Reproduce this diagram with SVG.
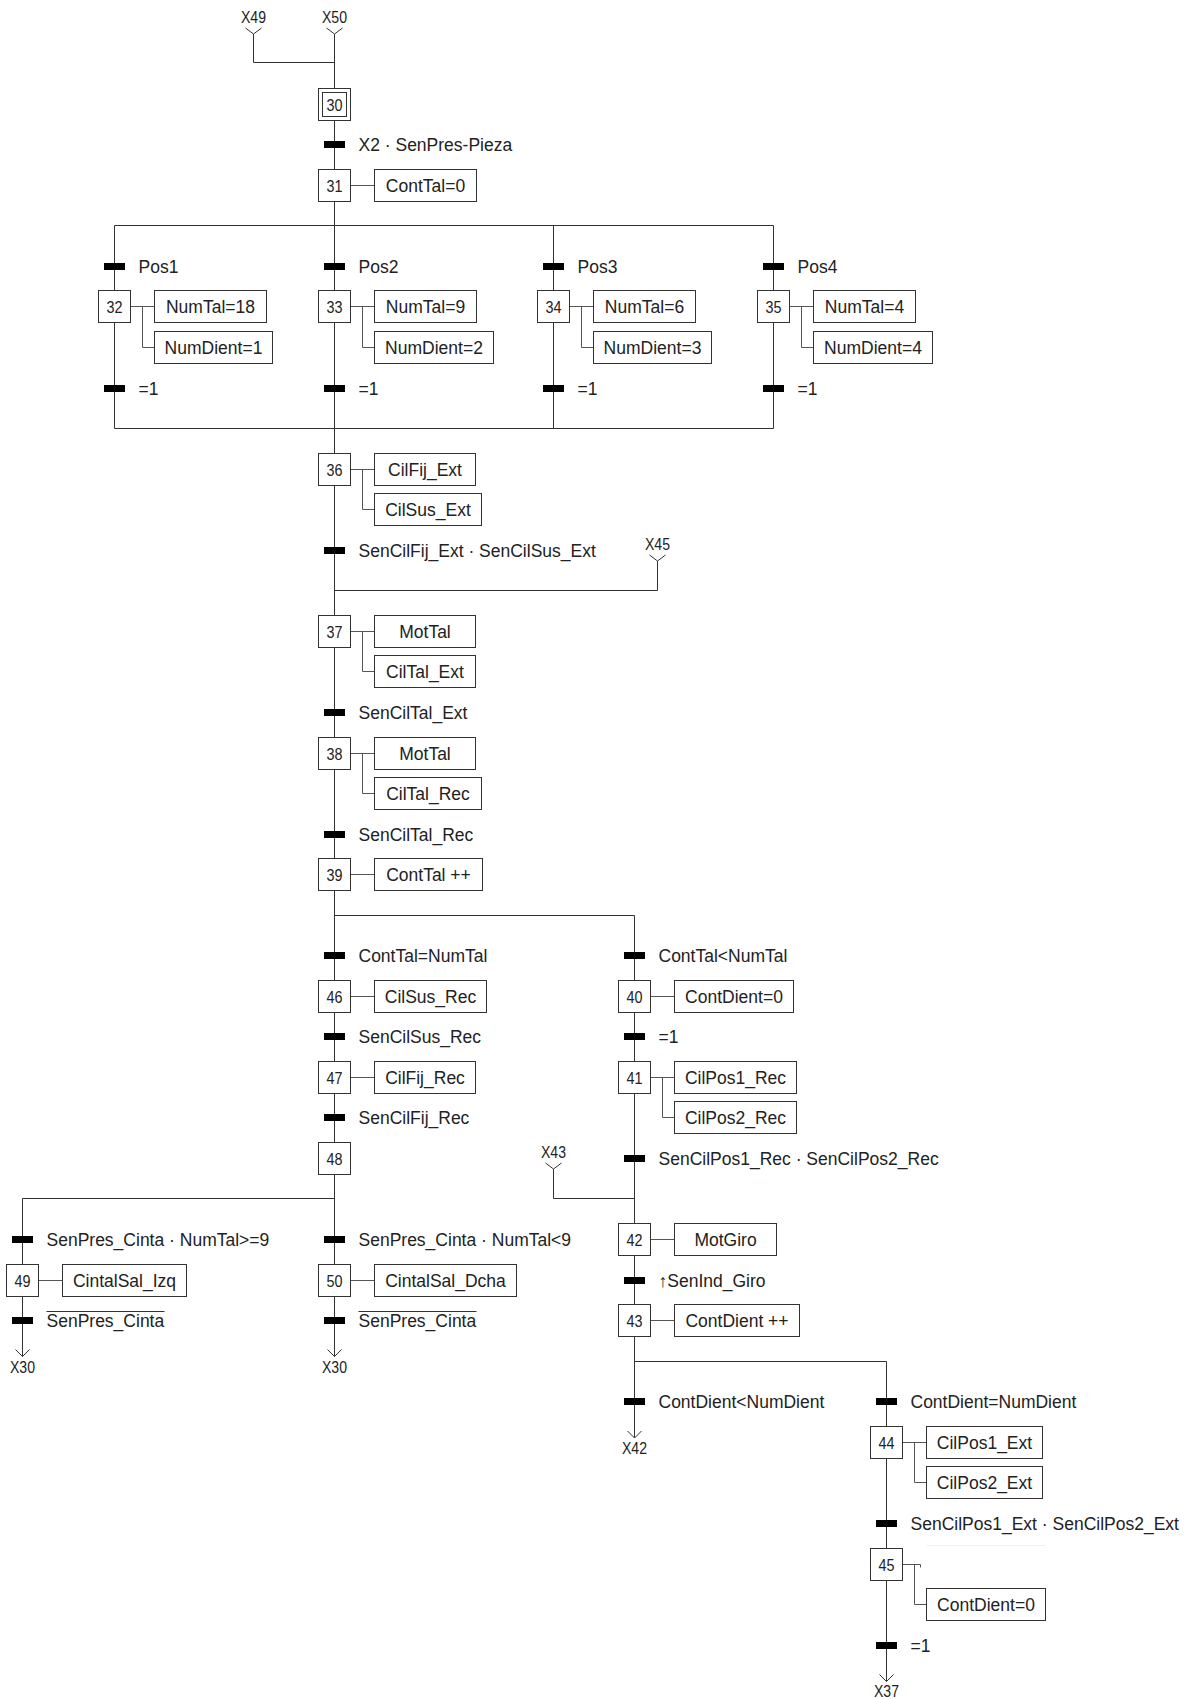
<svg xmlns="http://www.w3.org/2000/svg" width="1192" height="1699" viewBox="0 0 1192 1699">
<style>
  text { font-family: "Liberation Sans", Arial, sans-serif; fill: #222; }
  .lbl { font-size: 17.5px; }
  .act { font-size: 17.5px; text-anchor: middle; }
  .num { font-size: 17px; text-anchor: middle; }
  .ref { font-size: 16px; text-anchor: middle; }
  .flow { fill: none; stroke: #333; stroke-width: 1; }
  .link { fill: none; stroke: #555; stroke-width: 1; }
  .step rect, .action rect { fill: #fff; stroke: #333; stroke-width: 1; }
  .bar { fill: #000; }
  .ovl { stroke: #333; stroke-width: 1; }
</style>
<rect x="0" y="0" width="1192" height="1699" fill="#fff"/>

<g id="connectors">
  <!-- references in -->
  <path class="flow" d="M326.5 28 L334.5 34 L342.5 28"/>
  <path class="flow" d="M245.5 28 L253.5 34 L261.5 28 M253.5 34 V62.5 H334.5"/>
  <!-- main column -->
  <path class="flow" d="M334.5 34 V1356.5"/>
  <!-- simultaneous branches -->
  <path class="flow" d="M114.5 225.5 H773.5 M114.5 428.5 H773.5 M114.5 225.5 V428.5 M553.5 225.5 V428.5 M773.5 225.5 V428.5"/>
  <!-- X45 -->
  <path class="flow" d="M649.5 555 L657.5 561 L665.5 555 M657.5 561 V590.5 H334.5"/>
  <!-- divergence after 39 -->
  <path class="flow" d="M334.5 915.5 H634.5 V1438"/>
  <!-- X43 -->
  <path class="flow" d="M545.5 1163 L553.5 1169 L561.5 1163 M553.5 1169 V1198.5 H634.5"/>
  <!-- divergence after 48 -->
  <path class="flow" d="M334.5 1198.5 H22.5 V1356.5"/>
  <!-- divergence after 43 -->
  <path class="flow" d="M634.5 1361.5 H886.5 V1681.5"/>
  <!-- arrowheads out -->
  <path class="flow" d="M15.5 1349.5 L22.5 1356.5 L29.5 1349.5"/>
  <path class="flow" d="M327.5 1349.5 L334.5 1356.5 L341.5 1349.5"/>
  <path class="flow" d="M627.5 1431 L634.5 1438 L641.5 1431"/>
  <path class="flow" d="M879.5 1674.5 L886.5 1681.5 L893.5 1674.5"/>
  <!-- action links -->
  <path class="link" d="M350.5 185.5 H374.5"/>
  <path class="link" d="M130.5 306.5 H154.5 M142.5 306.5 V347.5 H154.5"/>
  <path class="link" d="M350.5 306.5 H374.5 M362.5 306.5 V347.5 H374.5"/>
  <path class="link" d="M569.5 306.5 H593.5 M581.5 306.5 V347.5 H593.5"/>
  <path class="link" d="M789.5 306.5 H813.5 M801.5 306.5 V347.5 H813.5"/>
  <path class="link" d="M350.5 469.5 H374.5 M362.5 469.5 V509.5 H374.5"/>
  <path class="link" d="M350.5 631.5 H374.5 M362.5 631.5 V671.5 H374.5"/>
  <path class="link" d="M350.5 753.5 H374.5 M362.5 753.5 V793.5 H374.5"/>
  <path class="link" d="M350.5 874.5 H374.5"/>
  <path class="link" d="M350.5 996.5 H374.5"/>
  <path class="link" d="M350.5 1077.5 H374.5"/>
  <path class="link" d="M650.5 996.5 H674.5"/>
  <path class="link" d="M650.5 1077.5 H674.5 M662.5 1077.5 V1117.5 H674.5"/>
  <path class="link" d="M650.5 1239.5 H674.5"/>
  <path class="link" d="M650.5 1320.5 H674.5"/>
  <path class="link" d="M38.5 1280.5 H62.5"/>
  <path class="link" d="M350.5 1280.5 H374.5"/>
  <path class="link" d="M902.5 1442.5 H926.5 M914.5 1442.5 V1482.5 H926.5"/>
  <path class="link" d="M902.5 1564.5 H920.5 V1567.5 M914.5 1564.5 V1604.5 H926.5"/>
  <path d="M926.5 1545.5 H1045.5" stroke="#eeeeee" stroke-width="1" fill="none"/>
</g>

<g id="refs">
  <text class="ref" x="253.5" y="22.5" textLength="25" lengthAdjust="spacingAndGlyphs">X49</text>
  <text class="ref" x="334.5" y="22.5" textLength="25" lengthAdjust="spacingAndGlyphs">X50</text>
  <text class="ref" x="657.5" y="550" textLength="25" lengthAdjust="spacingAndGlyphs">X45</text>
  <text class="ref" x="553.5" y="1158" textLength="25" lengthAdjust="spacingAndGlyphs">X43</text>
  <text class="ref" x="22.5" y="1372.5" textLength="25" lengthAdjust="spacingAndGlyphs">X30</text>
  <text class="ref" x="334.5" y="1372.5" textLength="25" lengthAdjust="spacingAndGlyphs">X30</text>
  <text class="ref" x="634.5" y="1454" textLength="25" lengthAdjust="spacingAndGlyphs">X42</text>
  <text class="ref" x="886.5" y="1697" textLength="25" lengthAdjust="spacingAndGlyphs">X37</text>
</g>

<!-- steps -->
<g id="step30" class="step"><rect x="318.5" y="88.5" width="32" height="32"/><rect x="322.5" y="92.5" width="24" height="24"/><text class="num" x="334.5" y="110.5" textLength="16" lengthAdjust="spacingAndGlyphs">30</text></g>
<g id="step31" class="step"><rect x="318.5" y="169.5" width="32" height="32"/><text class="num" x="334.5" y="191.5" textLength="16" lengthAdjust="spacingAndGlyphs">31</text></g>
<g id="step32" class="step"><rect x="98.5" y="290.5" width="32" height="32"/><text class="num" x="114.5" y="312.5" textLength="16" lengthAdjust="spacingAndGlyphs">32</text></g>
<g id="step33" class="step"><rect x="318.5" y="290.5" width="32" height="32"/><text class="num" x="334.5" y="312.5" textLength="16" lengthAdjust="spacingAndGlyphs">33</text></g>
<g id="step34" class="step"><rect x="537.5" y="290.5" width="32" height="32"/><text class="num" x="553.5" y="312.5" textLength="16" lengthAdjust="spacingAndGlyphs">34</text></g>
<g id="step35" class="step"><rect x="757.5" y="290.5" width="32" height="32"/><text class="num" x="773.5" y="312.5" textLength="16" lengthAdjust="spacingAndGlyphs">35</text></g>
<g id="step36" class="step"><rect x="318.5" y="453.5" width="32" height="32"/><text class="num" x="334.5" y="475.5" textLength="16" lengthAdjust="spacingAndGlyphs">36</text></g>
<g id="step37" class="step"><rect x="318.5" y="615.5" width="32" height="32"/><text class="num" x="334.5" y="637.5" textLength="16" lengthAdjust="spacingAndGlyphs">37</text></g>
<g id="step38" class="step"><rect x="318.5" y="737.5" width="32" height="32"/><text class="num" x="334.5" y="759.5" textLength="16" lengthAdjust="spacingAndGlyphs">38</text></g>
<g id="step39" class="step"><rect x="318.5" y="858.5" width="32" height="32"/><text class="num" x="334.5" y="880.5" textLength="16" lengthAdjust="spacingAndGlyphs">39</text></g>
<g id="step46" class="step"><rect x="318.5" y="980.5" width="32" height="32"/><text class="num" x="334.5" y="1002.5" textLength="16" lengthAdjust="spacingAndGlyphs">46</text></g>
<g id="step47" class="step"><rect x="318.5" y="1061.5" width="32" height="32"/><text class="num" x="334.5" y="1083.5" textLength="16" lengthAdjust="spacingAndGlyphs">47</text></g>
<g id="step48" class="step"><rect x="318.5" y="1142.5" width="32" height="32"/><text class="num" x="334.5" y="1164.5" textLength="16" lengthAdjust="spacingAndGlyphs">48</text></g>
<g id="step40" class="step"><rect x="618.5" y="980.5" width="32" height="32"/><text class="num" x="634.5" y="1002.5" textLength="16" lengthAdjust="spacingAndGlyphs">40</text></g>
<g id="step41" class="step"><rect x="618.5" y="1061.5" width="32" height="32"/><text class="num" x="634.5" y="1083.5" textLength="16" lengthAdjust="spacingAndGlyphs">41</text></g>
<g id="step42" class="step"><rect x="618.5" y="1223.5" width="32" height="32"/><text class="num" x="634.5" y="1245.5" textLength="16" lengthAdjust="spacingAndGlyphs">42</text></g>
<g id="step43" class="step"><rect x="618.5" y="1304.5" width="32" height="32"/><text class="num" x="634.5" y="1326.5" textLength="16" lengthAdjust="spacingAndGlyphs">43</text></g>
<g id="step49" class="step"><rect x="6.5" y="1264.5" width="32" height="32"/><text class="num" x="22.5" y="1286.5" textLength="16" lengthAdjust="spacingAndGlyphs">49</text></g>
<g id="step50" class="step"><rect x="318.5" y="1264.5" width="32" height="32"/><text class="num" x="334.5" y="1286.5" textLength="16" lengthAdjust="spacingAndGlyphs">50</text></g>
<g id="step44" class="step"><rect x="870.5" y="1426.5" width="32" height="32"/><text class="num" x="886.5" y="1448.5" textLength="16" lengthAdjust="spacingAndGlyphs">44</text></g>
<g id="step45" class="step"><rect x="870.5" y="1548.5" width="32" height="32"/><text class="num" x="886.5" y="1570.5" textLength="16" lengthAdjust="spacingAndGlyphs">45</text></g>

<!-- actions -->
<g id="a31" class="action"><rect x="374.5" y="169.5" width="102" height="32"/><text class="act" x="425.5" y="191.5">ContTal=0</text></g>
<g id="a32a" class="action"><rect x="154.5" y="290.5" width="112" height="32"/><text class="act" x="210.5" y="312.5">NumTal=18</text></g>
<g id="a32b" class="action"><rect x="154.5" y="331.5" width="118" height="32"/><text class="act" x="213.5" y="353.5">NumDient=1</text></g>
<g id="a33a" class="action"><rect x="374.5" y="290.5" width="102" height="32"/><text class="act" x="425.5" y="312.5">NumTal=9</text></g>
<g id="a33b" class="action"><rect x="374.5" y="331.5" width="119" height="32"/><text class="act" x="434" y="353.5">NumDient=2</text></g>
<g id="a34a" class="action"><rect x="593.5" y="290.5" width="102" height="32"/><text class="act" x="644.5" y="312.5">NumTal=6</text></g>
<g id="a34b" class="action"><rect x="593.5" y="331.5" width="118" height="32"/><text class="act" x="652.5" y="353.5">NumDient=3</text></g>
<g id="a35a" class="action"><rect x="813.5" y="290.5" width="102" height="32"/><text class="act" x="864.5" y="312.5">NumTal=4</text></g>
<g id="a35b" class="action"><rect x="813.5" y="331.5" width="119" height="32"/><text class="act" x="873" y="353.5">NumDient=4</text></g>
<g id="a36a" class="action"><rect x="374.5" y="453.5" width="101" height="32"/><text class="act" x="425" y="475.5">CilFij_Ext</text></g>
<g id="a36b" class="action"><rect x="374.5" y="493.5" width="107" height="32"/><text class="act" x="428" y="515.5">CilSus_Ext</text></g>
<g id="a37a" class="action"><rect x="374.5" y="615.5" width="101" height="32"/><text class="act" x="425" y="637.5">MotTal</text></g>
<g id="a37b" class="action"><rect x="374.5" y="655.5" width="101" height="32"/><text class="act" x="425" y="677.5">CilTal_Ext</text></g>
<g id="a38a" class="action"><rect x="374.5" y="737.5" width="101" height="32"/><text class="act" x="425" y="759.5">MotTal</text></g>
<g id="a38b" class="action"><rect x="374.5" y="777.5" width="107" height="32"/><text class="act" x="428" y="799.5">CilTal_Rec</text></g>
<g id="a39" class="action"><rect x="374.5" y="858.5" width="108" height="32"/><text class="act" x="428.5" y="880.5">ContTal ++</text></g>
<g id="a46" class="action"><rect x="374.5" y="980.5" width="112" height="32"/><text class="act" x="430.5" y="1002.5">CilSus_Rec</text></g>
<g id="a47" class="action"><rect x="374.5" y="1061.5" width="101" height="32"/><text class="act" x="425" y="1083.5">CilFij_Rec</text></g>
<g id="a40" class="action"><rect x="674.5" y="980.5" width="119" height="32"/><text class="act" x="734" y="1002.5">ContDient=0</text></g>
<g id="a41a" class="action"><rect x="674.5" y="1061.5" width="122" height="32"/><text class="act" x="735.5" y="1083.5">CilPos1_Rec</text></g>
<g id="a41b" class="action"><rect x="674.5" y="1101.5" width="122" height="32"/><text class="act" x="735.5" y="1123.5">CilPos2_Rec</text></g>
<g id="a42" class="action"><rect x="674.5" y="1223.5" width="102" height="32"/><text class="act" x="725.5" y="1245.5">MotGiro</text></g>
<g id="a43" class="action"><rect x="674.5" y="1304.5" width="125" height="32"/><text class="act" x="737" y="1326.5">ContDient ++</text></g>
<g id="a49" class="action"><rect x="62.5" y="1264.5" width="124" height="32"/><text class="act" x="124.5" y="1286.5">CintalSal_Izq</text></g>
<g id="a50" class="action"><rect x="374.5" y="1264.5" width="142" height="32"/><text class="act" x="445.5" y="1286.5">CintalSal_Dcha</text></g>
<g id="a44a" class="action"><rect x="926.5" y="1426.5" width="116" height="32"/><text class="act" x="984.5" y="1448.5">CilPos1_Ext</text></g>
<g id="a44b" class="action"><rect x="926.5" y="1466.5" width="116" height="32"/><text class="act" x="984.5" y="1488.5">CilPos2_Ext</text></g>
<g id="a45" class="action"><rect x="926.5" y="1588.5" width="119" height="32"/><text class="act" x="986" y="1610.5">ContDient=0</text></g>

<!-- transitions -->
<g id="t30_31"><rect class="bar" x="324" y="141" width="21" height="7"/><text class="lbl" x="358.5" y="150.5">X2 · SenPres-Pieza</text></g>
<g id="t31_32"><rect class="bar" x="104" y="263" width="21" height="7"/><text class="lbl" x="138.5" y="272.5">Pos1</text></g>
<g id="t31_33"><rect class="bar" x="324" y="263" width="21" height="7"/><text class="lbl" x="358.5" y="272.5">Pos2</text></g>
<g id="t31_34"><rect class="bar" x="543" y="263" width="21" height="7"/><text class="lbl" x="577.5" y="272.5">Pos3</text></g>
<g id="t31_35"><rect class="bar" x="763" y="263" width="21" height="7"/><text class="lbl" x="797.5" y="272.5">Pos4</text></g>
<g id="t32_36"><rect class="bar" x="104" y="385" width="21" height="7"/><text class="lbl" x="138.5" y="394.5">=1</text></g>
<g id="t33_36"><rect class="bar" x="324" y="385" width="21" height="7"/><text class="lbl" x="358.5" y="394.5">=1</text></g>
<g id="t34_36"><rect class="bar" x="543" y="385" width="21" height="7"/><text class="lbl" x="577.5" y="394.5">=1</text></g>
<g id="t35_36"><rect class="bar" x="763" y="385" width="21" height="7"/><text class="lbl" x="797.5" y="394.5">=1</text></g>
<g id="t36_37"><rect class="bar" x="324" y="547" width="21" height="7"/><text class="lbl" x="358.5" y="556.5">SenCilFij_Ext · SenCilSus_Ext</text></g>
<g id="t37_38"><rect class="bar" x="324" y="709" width="21" height="7"/><text class="lbl" x="358.5" y="718.5">SenCilTal_Ext</text></g>
<g id="t38_39"><rect class="bar" x="324" y="831" width="21" height="7"/><text class="lbl" x="358.5" y="840.5">SenCilTal_Rec</text></g>
<g id="t39_46"><rect class="bar" x="324" y="952" width="21" height="7"/><text class="lbl" x="358.5" y="961.5">ContTal=NumTal</text></g>
<g id="t39_40"><rect class="bar" x="624" y="952" width="21" height="7"/><text class="lbl" x="658.5" y="961.5">ContTal&lt;NumTal</text></g>
<g id="t46_47"><rect class="bar" x="324" y="1033" width="21" height="7"/><text class="lbl" x="358.5" y="1042.5">SenCilSus_Rec</text></g>
<g id="t40_41"><rect class="bar" x="624" y="1033" width="21" height="7"/><text class="lbl" x="658.5" y="1042.5">=1</text></g>
<g id="t47_48"><rect class="bar" x="324" y="1114" width="21" height="7"/><text class="lbl" x="358.5" y="1123.5">SenCilFij_Rec</text></g>
<g id="t41_42"><rect class="bar" x="624" y="1155" width="21" height="7"/><text class="lbl" x="658.5" y="1164.5">SenCilPos1_Rec · SenCilPos2_Rec</text></g>
<g id="t48_49"><rect class="bar" x="12" y="1236" width="21" height="7"/><text class="lbl" x="46.5" y="1245.5">SenPres_Cinta · NumTal&gt;=9</text></g>
<g id="t48_50"><rect class="bar" x="324" y="1236" width="21" height="7"/><text class="lbl" x="358.5" y="1245.5">SenPres_Cinta · NumTal&lt;9</text></g>
<g id="t42_43"><rect class="bar" x="624" y="1277" width="21" height="7"/><text class="lbl" x="658.5" y="1286.5">↑SenInd_Giro</text></g>
<g id="t49_30"><rect class="bar" x="12" y="1317" width="21" height="7"/><line class="ovl" x1="46.5" y1="1311.5" x2="164.5" y2="1311.5"/><text class="lbl" x="46.5" y="1326.5">SenPres_Cinta</text></g>
<g id="t50_30"><rect class="bar" x="324" y="1317" width="21" height="7"/><line class="ovl" x1="358.5" y1="1311.5" x2="476.5" y2="1311.5"/><text class="lbl" x="358.5" y="1326.5">SenPres_Cinta</text></g>
<g id="t43_42"><rect class="bar" x="624" y="1398" width="21" height="7"/><text class="lbl" x="658.5" y="1407.5">ContDient&lt;NumDient</text></g>
<g id="t43_44"><rect class="bar" x="876" y="1398" width="21" height="7"/><text class="lbl" x="910.5" y="1407.5">ContDient=NumDient</text></g>
<g id="t44_45"><rect class="bar" x="876" y="1520" width="21" height="7"/><text class="lbl" x="910.5" y="1529.5">SenCilPos1_Ext · SenCilPos2_Ext</text></g>
<g id="t45_37"><rect class="bar" x="876" y="1642" width="21" height="7"/><text class="lbl" x="910.5" y="1651.5">=1</text></g>
</svg>
